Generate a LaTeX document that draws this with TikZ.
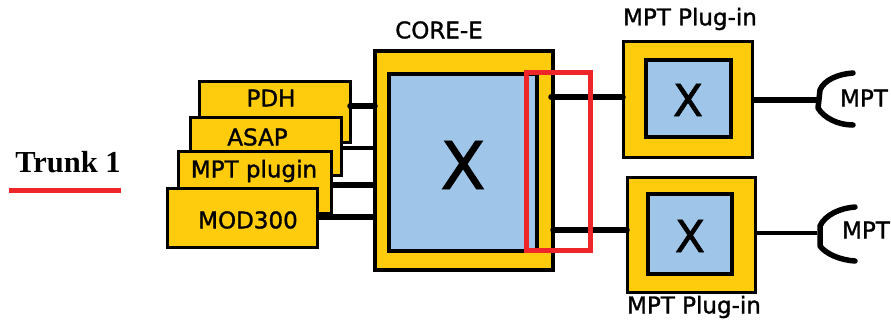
\documentclass[tikz,border=0pt]{standalone}
\usepackage{fontspec}
\usepackage{xcolor}
\newfontfamily\labfont[FakeBold=1.3]{DejaVu Sans}
\newfontfamily\trunkfont{Liberation Serif}
\usetikzlibrary{arrows.meta,positioning,calc}
\definecolor{cardyellow}{HTML}{FFCB0D}
\definecolor{chipblue}{HTML}{9FC5E8}
\definecolor{markred}{HTML}{EE2529}
\newcommand{\lbl}{\labfont\fontsize{23}{25}\selectfont}
\tikzset{
  card/.style={draw=black,fill=cardyellow,line width=3pt,inner sep=0pt,outer sep=0pt},
  chip/.style={draw=black,fill=chipblue,line width=3.5pt,inner sep=0pt,outer sep=0pt},
  wire/.style={line width=5.5pt,line cap=round},
  cup/.style={line width=5.5pt,line cap=round,line join=round},
  tag/.style={inner sep=0pt,font=\lbl},
  bigx/.style={inner sep=0pt,font=\labfont\fontsize{#1}{#1}\selectfont},
}
\begin{document}
\begin{tikzpicture}[x=1pt,y=-1pt]
\useasboundingbox (0,0) rectangle (891,322);
% left stack of cards, back to front
\node[card,minimum width=151pt,minimum height=61pt] (pdh) at (274.5,111.5) {};
\node[card,minimum width=151pt,minimum height=58pt] (asap) at (265.5,146) {};
\node[card,minimum width=153pt,minimum height=62pt] (mptcard) at (254.5,182) {};
\node[card,minimum width=150pt,minimum height=59pt] (mod) at (242,217.5) {};
\node[tag] (pdhlab) at (271,98) {PDH};
\node[tag] (asaplab) at (257.5,137) {ASAP};
\node[tag] (mptlab) at (254,171) {MPT plugin};
\node[tag] (modlab) at (248,220) {MOD300};
% core
\node[card,line width=4pt,minimum width=178pt,minimum height=219pt] (core) at (464,160.5) {};
\node[chip,minimum width=148pt,minimum height=177pt] (corex) at (463,162.5) {};
\node[bigx=66] (xcore) at (463,165) {X};
\node[tag] (corelab) at (439,30) {CORE-E};
% plug-ins
\node[card,minimum width=129pt,minimum height=116pt] (plugA) at (687.5,99) {};
\node[chip,line width=4pt,minimum width=85pt,minimum height=77pt] (chipA) at (688.5,98.5) {};
\node[bigx=44] (xA) at (688,100) {X};
\node[tag] (plugAlab) at (690,19) {MPT Plug-in};
\node[card,minimum width=128pt,minimum height=115pt] (plugB) at (691,234.5) {};
\node[chip,line width=4pt,minimum width=84pt,minimum height=80pt] (chipB) at (690,234) {};
\node[bigx=44] (xB) at (690,236) {X};
\node[tag] (plugBlab) at (694,307) {MPT Plug-in};
% outputs
\coordinate (cupA) at (817,100);
\coordinate (cupB) at (817,233);
\node[tag] (mptA) at (864,98) {MPT};
\node[tag] (mptB) at (866,230) {MPT};
% wires
\draw[wire] (pdh.east |- 0,106) -- (core.west |- 0,106);
\draw[wire,line width=4pt,line cap=butt] (asap.east |- 0,148) -- (core.west |- 0,148);
\draw[wire,line cap=butt] (mptcard.east |- 0,185) -- (core.west |- 0,185);
\draw[wire,line cap=butt] (mod.east |- 0,217) -- (core.west |- 0,217);
\draw[wire] (551,97) -- (plugA.west |- 0,97);
\draw[wire] (553,230) -- (plugB.west |- 0,230);
\draw[wire,line cap=butt] (plugA.east |- cupA) -- (cupA);
\draw[wire,line width=4pt,line cap=butt] (plugB.east |- cupB) -- (cupB);
% connectors
\draw[cup] (853,73) .. controls (838,74) and (824,80) .. (820,90) -- (818,108) .. controls (824,118) and (838,125) .. (853,125);
\draw[cup] (855,207) .. controls (840,208) and (825,215) .. (820,226) -- (820,246) .. controls (826,254) and (840,260) .. (855,261);
% red marks
\node[draw=markred,line width=5.5pt,inner sep=0pt,outer sep=0pt,minimum width=64pt,minimum height=178pt] (hilite) at (558.5,161.5) {};
\node[inner sep=0pt,font=\trunkfont\bfseries\fontsize{30.5}{32}\selectfont] (trunk) at (68,162) {Trunk 1};
\coordinate (trunkL) at (9,190);
\coordinate (trunkR) at (121,190);
\draw[markred,line width=5pt] (trunkL) -- (trunkR);
\end{tikzpicture}
\end{document}
